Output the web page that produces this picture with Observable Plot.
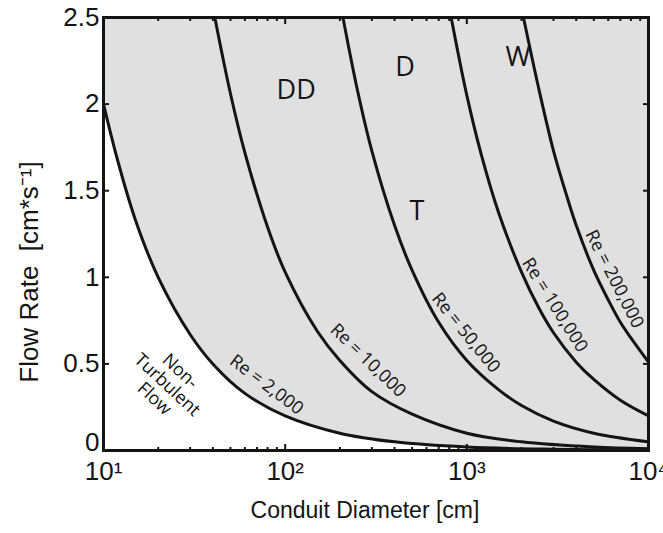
<!DOCTYPE html>
<html>
<head>
<meta charset="utf-8">
<script src="https://cdn.jsdelivr.net/npm/d3@7"></script>
<script src="https://cdn.jsdelivr.net/npm/@observablehq/plot@0.6"></script>
<style>
  html, body { margin: 0; padding: 0; background: #fff; }
</style>
</head>
<body>
<script>
// ---- Data ----
// Conduit diameter [cm] and flow rate [cm/s] along each Reynolds-number curve
const re2000D   = [10, 12, 15, 20, 30, 40, 60, 100, 200, 400, 1000, 3000, 10000];
const re2000V   = [2.0, 1.67, 1.33, 1.0, 0.67, 0.5, 0.33, 0.2, 0.1, 0.05, 0.02, 0.007, 0.002];
const re10000D  = [41, 50, 60, 80, 100, 150, 200, 300, 500, 1000, 2000, 5000, 10000];
const re10000V  = [2.5, 2.06, 1.72, 1.29, 1.03, 0.69, 0.52, 0.34, 0.21, 0.10, 0.05, 0.02, 0.01];
const re50000D  = [208, 250, 300, 400, 500, 700, 1000, 1500, 2000, 3000, 5000, 10000];
const re50000V  = [2.5, 2.08, 1.73, 1.3, 1.04, 0.74, 0.52, 0.35, 0.26, 0.17, 0.10, 0.05];
const re100000D = [820, 1000, 1200, 1500, 2000, 2500, 3000, 4000, 5000, 7000, 10000];
const re100000V = [2.5, 2.05, 1.71, 1.37, 1.03, 0.82, 0.68, 0.51, 0.41, 0.29, 0.2];
const re200000D = [2050, 2500, 3000, 3500, 4000, 5000, 6000, 7000, 8000, 10000];
const re200000V = [2.5, 2.08, 1.73, 1.49, 1.3, 1.04, 0.87, 0.74, 0.65, 0.51];

const curveNames = ["Re = 2,000", "Re = 10,000", "Re = 50,000", "Re = 100,000", "Re = 200,000"];

// Curve annotations (anchor in data coordinates, angle in degrees)
const curveLabelD     = [79, 286, 988, 3050, 6500];
const curveLabelV     = [0.38, 0.52, 0.68, 0.84, 0.99];
const curveLabelAngle = [37, 44, 51, 58, 63];

// Regime annotations
const regimeLabels = ["DD", "D", "W", "T"];
const regimeD      = [115, 457, 1910, 531];
const regimeV      = [2.08, 2.21, 2.27, 1.38];

const nonTurbText = "Non-\nTurbulent\nFlow";
const nonTurbD = 22.5;
const nonTurbV = 0.38;

// Axes
const xDomain = [10, 10000];
const yMax = 2.5;
const yTicks = [0, 0.5, 1, 1.5, 2, 2.5];
const xMajor = [10, 100, 1000, 10000];
const xMajorLabels = ["10\u00b9", "10\u00b2", "10\u00b3", "10\u2074"];
const xMinor = [20, 30, 40, 50, 60, 70, 80, 90, 200, 300, 400, 500, 600, 700, 800, 900,
                2000, 3000, 4000, 5000, 6000, 7000, 8000, 9000];
const xTitle = "Conduit Diameter [cm]";
const yTitle = "Flow Rate\u00a0 [cm*s\u207b\u00b9]";

// ---- Build tables ----
const curveD = [re2000D, re10000D, re50000D, re100000D, re200000D];
const curveV = [re2000V, re10000V, re50000V, re100000V, re200000V];
const curveRows = curveNames.flatMap((name, k) =>
  curveD[k].map((D, i) => ({Re: name, D, V: curveV[k][i]})));
const laminarRows = re2000D.map((D, i) => ({D, V: re2000V[i], top: yMax}));
const curveLabelRows = curveNames.map((t, i) => ({t, D: curveLabelD[i], V: curveLabelV[i], a: curveLabelAngle[i]}));
const regimeRows = regimeLabels.map((t, i) => ({t, D: regimeD[i], V: regimeV[i]}));

const ink = "#141414";
const sansUI = "'Liberation Sans', Arial, Helvetica, sans-serif";
const sansAnn = "'Open Sans', 'Noto Sans', sans-serif";
const none = () => "";

const chart = Plot.plot({
  width: 663,
  height: 533,
  marginLeft: 103,
  marginRight: 15,
  marginTop: 17,
  marginBottom: 83,
  style: {fontFamily: sansUI, background: "#fff", color: ink},
  x: {type: "log", domain: xDomain},
  y: {domain: [0, yMax]},
  marks: [
    Plot.areaY(laminarRows, {x: "D", y1: "V", y2: "top", fill: "#e0e0e0", curve: "catmull-rom"}),
    Plot.line(curveRows, {x: "D", y: "V", z: "Re", stroke: ink, strokeWidth: 3, curve: "catmull-rom", clip: true}),
    // inward tick marks (shifted inside the frame)
    Plot.axisY({anchor: "left", ticks: yTicks, tickSize: 6, dx: 6, strokeWidth: 2, tickFormat: none, label: null}),
    Plot.axisY({anchor: "right", ticks: yTicks, tickSize: 6, dx: -6, strokeWidth: 2, tickFormat: none, label: null}),
    Plot.axisX({anchor: "bottom", ticks: xMajor, tickSize: 6, dy: -6, strokeWidth: 2, tickFormat: none, label: null}),
    Plot.axisX({anchor: "bottom", ticks: xMinor, tickSize: 3, dy: -3, strokeWidth: 2, tickFormat: none, label: null}),
    Plot.axisX({anchor: "top", ticks: xMajor, tickSize: 6, dy: 6, strokeWidth: 2, tickFormat: none, label: null}),
    Plot.axisX({anchor: "top", ticks: xMinor, tickSize: 3, dy: 3, strokeWidth: 2, tickFormat: none, label: null}),
    // tick labels
    Plot.axisY({anchor: "left", ticks: yTicks.filter(d => d > 0), tickSize: 0, tickPadding: 4,
                tickFormat: d => String(d), fontSize: 26, label: null}),
    Plot.axisY({anchor: "left", ticks: yTicks.filter(d => d === 0), tickSize: 0, tickPadding: 4, dy: -8,
                tickFormat: d => String(d), fontSize: 26, label: null}),
    Plot.axisX({anchor: "bottom", ticks: xMajor, tickSize: 0, tickPadding: 11,
                tickFormat: d => xMajorLabels[xMajor.indexOf(d)], fontSize: 26, label: null}),
    Plot.frame({stroke: ink, strokeWidth: 3}),
    // annotations
    Plot.text(curveLabelRows, {x: "D", y: "V", text: "t", rotate: "a", fontSize: 18,
                               fontFamily: sansAnn, fill: ink}),
    Plot.text(regimeRows, {x: "D", y: "V", text: "t", fontSize: 27, fontFamily: sansAnn, fill: ink}),
    Plot.text([nonTurbText], {x: () => nonTurbD, y: () => nonTurbV, text: d => d, rotate: 43,
                              fontSize: 18, lineHeight: 1.05, fontFamily: sansAnn, fill: ink}),
    // axis titles
    Plot.text([xTitle], {frameAnchor: "bottom", text: d => d, dy: 67, dx: -11, fontSize: 23, fill: ink}),
    Plot.text([yTitle], {frameAnchor: "left", textAnchor: "middle", text: d => d, dx: -74, dy: 38,
                         rotate: -90, fontSize: 26, fill: ink})
  ]
});
document.body.appendChild(chart);
</script>
</body>
</html>
